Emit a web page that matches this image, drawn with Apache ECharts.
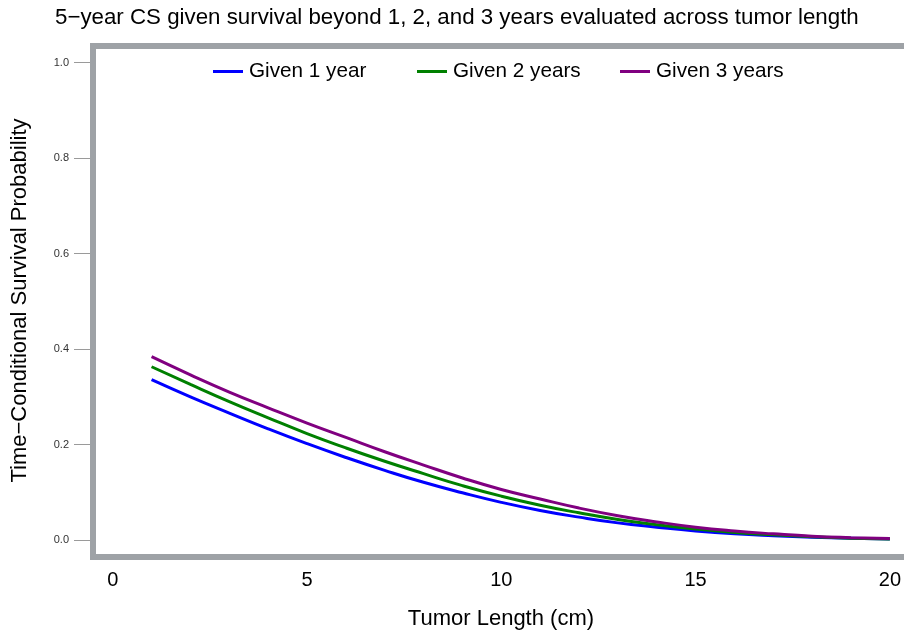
<!DOCTYPE html>
<html>
<head>
<meta charset="utf-8">
<script src="https://cdn.jsdelivr.net/npm/echarts@6/dist/echarts.min.js"></script>
<style>
  html, body { margin: 0; padding: 0; background: #fff; }
  #chart { width: 904px; height: 635px; }
</style>
</head>
<body>
<div id="chart"></div>
<script>
// Tumor length (cm) at which conditional survival is evaluated
const tumorLength = [1, 2, 3, 4, 5, 6, 7, 8, 9, 10, 11, 12, 13, 14, 15, 16, 17, 18, 19, 20];

// 5-year conditional survival given survival beyond 1, 2 and 3 years
const given1Year = [0.336, 0.300, 0.266, 0.233, 0.202, 0.173, 0.146, 0.121, 0.099, 0.079,
                    0.062, 0.048, 0.036, 0.027, 0.019, 0.013, 0.009, 0.006, 0.004, 0.002];
const given2Years = [0.363, 0.326, 0.290, 0.256, 0.223, 0.193, 0.165, 0.139, 0.114, 0.092,
                     0.073, 0.057, 0.043, 0.032, 0.023, 0.016, 0.011, 0.007, 0.004, 0.002];
const given3Years = [0.384, 0.346, 0.310, 0.277, 0.245, 0.215, 0.185, 0.157, 0.130, 0.106,
                     0.086, 0.067, 0.051, 0.038, 0.027, 0.019, 0.013, 0.008, 0.005, 0.003];

const seriesNames = ['Given 1 year', 'Given 2 years', 'Given 3 years'];
const seriesColors = ['#0000ff', '#008000', '#800080'];
const xTicks = [0, 5, 10, 15, 20];
const yTicks = [0.0, 0.2, 0.4, 0.6, 0.8, 1.0];

// Axis extents include padding around the tick range (the frame runs off the right edge)
const xRange = [-0.507, 20.36];
const yRange = [-0.0313, 1.0348];

// Legend entries sit in fixed-width columns
const legendColumns = [213, 417, 620];

const FONT = '"Liberation Sans", Arial, Helvetica, sans-serif';

function pairs(ys) {
  return tumorLength.map((x, i) => [x, ys[i]]);
}

const chart = echarts.init(document.getElementById('chart'), null, { renderer: 'canvas' });

chart.setOption({
  animation: false,
  backgroundColor: '#ffffff',
  textStyle: { fontFamily: FONT },
  title: {
    text: '5\u2212year CS given survival beyond 1, 2, and 3 years evaluated across tumor length',
    left: 55,
    top: 7,
    padding: 0,
    textStyle: { fontFamily: FONT, fontSize: 22.3, fontWeight: 'normal', color: '#000' }
  },
  legend: seriesNames.map((name, i) => ({
    data: [name],
    left: legendColumns[i],
    top: 61,
    padding: 0,
    icon: 'rect',
    itemWidth: 30,
    itemHeight: 3,
    textStyle: { fontFamily: FONT, fontSize: 20.7, color: '#000', padding: [0, 0, 0, 1] }
  })),
  grid: {
    left: 93, right: 0, top: 46, bottom: 78,
    show: false,
    containLabel: false
  },
  // frame around the plotting region; its right side lies past the page edge
  graphic: [{
    type: 'rect',
    z: 10,
    silent: true,
    shape: { x: 93, y: 46, width: 830, height: 511 },
    style: { fill: 'none', stroke: '#9ea2a6', lineWidth: 6 }
  }],
  xAxis: {
    type: 'value',
    min: xRange[0],
    max: xRange[1],
    name: 'Tumor Length (cm)',
    nameLocation: 'middle',
    nameGap: 53,
    nameTextStyle: { fontFamily: FONT, fontSize: 22, color: '#000', padding: [0, 0, 0, 5] },
    axisLine: { show: false, onZero: false },
    axisTick: { show: false },
    splitLine: { show: false },
    axisLabel: {
      customValues: xTicks,
      fontFamily: FONT, fontSize: 20, color: '#000', margin: 15,
      formatter: v => String(v)
    }
  },
  yAxis: {
    type: 'value',
    min: yRange[0],
    max: yRange[1],
    name: 'Time\u2212Conditional Survival Probability',
    nameLocation: 'middle',
    nameGap: 62,
    nameTextStyle: { fontFamily: FONT, fontSize: 22, color: '#000' },
    axisLine: { show: false, onZero: false },
    axisTick: {
      show: true, inside: false, customValues: yTicks, length: 19,
      lineStyle: { color: '#9a9a9a', width: 1 }
    },
    splitLine: { show: false },
    axisLabel: {
      customValues: yTicks,
      fontFamily: FONT, fontSize: 11, color: '#333', margin: 24,
      formatter: v => v.toFixed(1)
    }
  },
  series: seriesNames.map((name, i) => ({
    name: name,
    type: 'line',
    data: pairs([given1Year, given2Years, given3Years][i]),
    smooth: true,
    showSymbol: false,
    symbol: 'none',
    z: 2 + i,
    lineStyle: { color: seriesColors[i], width: 3 },
    itemStyle: { color: seriesColors[i] }
  }))
});
</script>
</body>
</html>
